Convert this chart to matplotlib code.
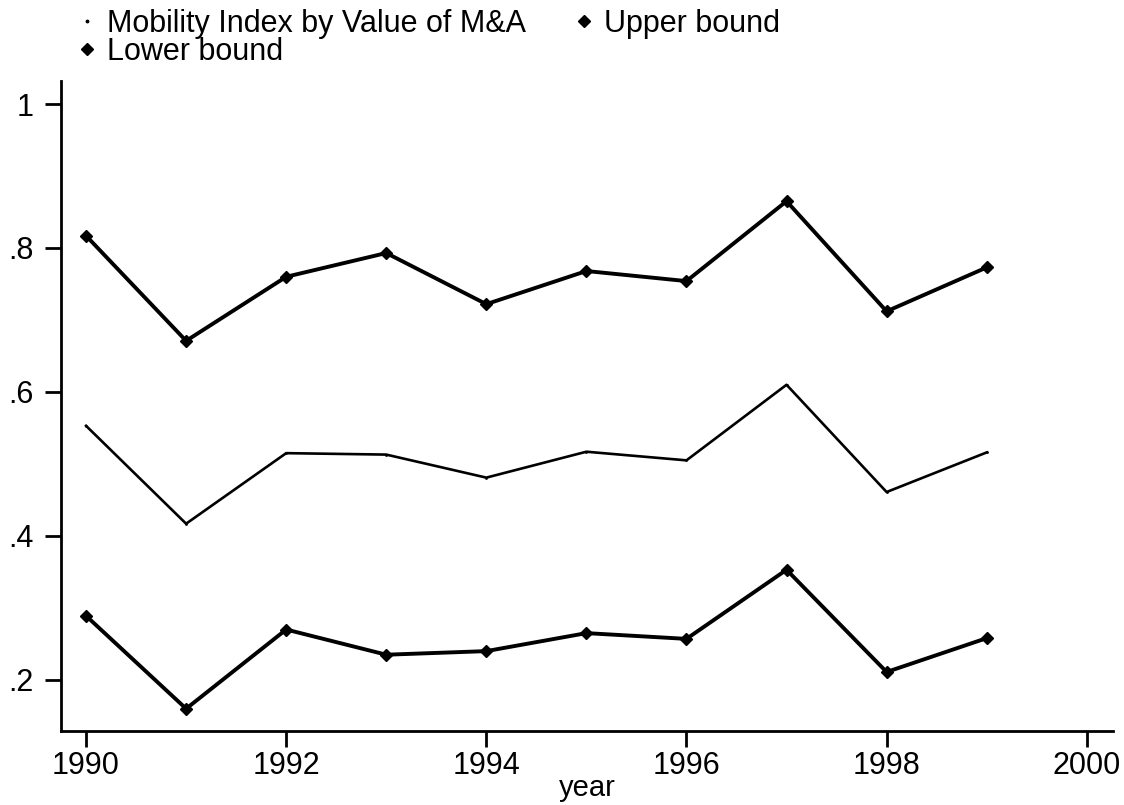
import matplotlib
matplotlib.use('Agg')
import matplotlib.pyplot as plt
from matplotlib.lines import Line2D

plt.rcParams['font.family'] = ['Liberation Sans', 'DejaVu Sans']

# ===== DATA =====
years = [1990, 1991, 1992, 1993, 1994, 1995, 1996, 1997, 1998, 1999]
mobility = [0.553, 0.417, 0.515, 0.513, 0.481, 0.517, 0.505, 0.610, 0.461, 0.516]
upper = [0.817, 0.671, 0.760, 0.793, 0.722, 0.768, 0.754, 0.865, 0.712, 0.773]
lower = [0.289, 0.160, 0.270, 0.235, 0.240, 0.265, 0.257, 0.353, 0.211, 0.258]

x_ticks = [1990, 1992, 1994, 1996, 1998, 2000]
y_ticks = [0.2, 0.4, 0.6, 0.8, 1.0]
y_labels = ['.2', '.4', '.6', '.8', '1']

FS = 22

fig = plt.figure(figsize=(11.24, 8.05), dpi=100)
ax = fig.add_axes([0.0543, 0.0919, 0.9357, 0.8075])

ax.plot(years, mobility, color='black', lw=1.9, marker='.', ms=2)
ax.plot(years, upper, color='black', lw=2.8, marker='D', ms=6.5)
ax.plot(years, lower, color='black', lw=2.8, marker='D', ms=6.5)

ax.set_xlim(1989.75, 2000.26)
ax.set_ylim(0.129, 1.032)
ax.set_xticks(x_ticks)
ax.set_yticks(y_ticks)
ax.set_yticklabels(y_labels)

for side in ['top', 'right']:
    ax.spines[side].set_visible(False)
for side in ['left', 'bottom']:
    ax.spines[side].set_linewidth(2)

ax.tick_params(axis='both', direction='out', length=11.5, width=2,
               labelsize=FS, colors='black')
ax.tick_params(axis='y', pad=8)
ax.tick_params(axis='x', pad=3)
ax.set_xlabel('year', fontsize=21, labelpad=-5)

# legend in Stata row order: Mobility, Upper / Lower
h_mob = Line2D([], [], color='black', ls='none', marker='.', ms=3.5)
h_up = Line2D([], [], color='black', ls='none', marker='D', ms=6)
h_lo = Line2D([], [], color='black', ls='none', marker='D', ms=6)
fig.legend([h_mob, h_lo, h_up],
           ['Mobility Index by Value of M&A', 'Lower bound', 'Upper bound'],
           ncol=2, loc='upper left', bbox_to_anchor=(0.053, 1.012),
           frameon=False, fontsize=FS, handlelength=0.6, handletextpad=0.35,
           columnspacing=1.6, labelspacing=-0.05, borderaxespad=0.2)

fig.savefig('out.png', dpi=100)
